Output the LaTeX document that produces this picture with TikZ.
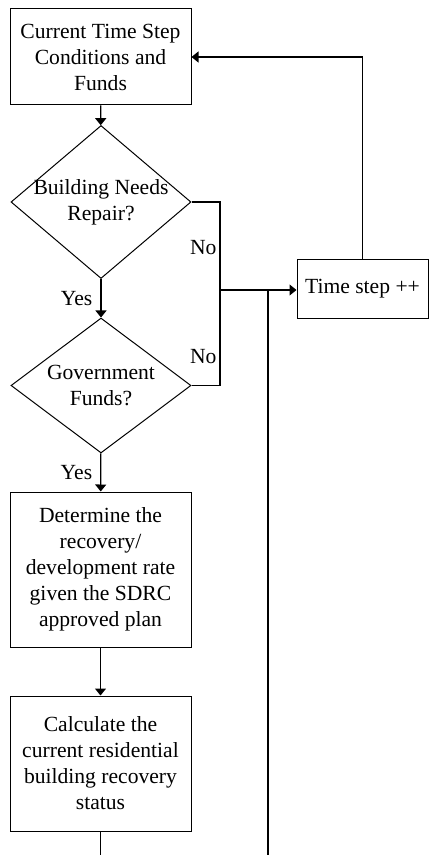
\documentclass[tikz,border=0pt]{standalone}
\usepackage{fontspec}
\setmainfont{Liberation Serif}
\usetikzlibrary{shapes.geometric,arrows.meta}

\begin{document}
\begin{tikzpicture}[x=0.5pt,y=-0.5pt]
            \tikzstyle{every node}=[font=\fontsize{10.8}{13}\selectfont];
            \tikzstyle{box}=[draw, line width=0.5pt, align=center, minimum width=90.5pt, inner sep=0pt];
            \tikzstyle{decision}=[draw, shape=diamond, line width=0.5pt, inner sep=0pt, minimum width=90pt];
            \tikzstyle{flow}=[line width=0.6pt, -{Triangle[width=5.5pt,length=3.5pt]}];
            \tikzstyle{wire}=[line width=0.6pt];
            \clip (0,0) rectangle (429,855);
            \node[box, minimum height=48pt] (cur) at (100.5,57) {Current Time Step\\Conditions and\\Funds};
            \node[decision, minimum height=76.5pt, label={[align=center]center:Building Needs\\Repair?}] (need) at (101,202) {};
            \node[decision, minimum height=67.5pt, label={[align=center]center:Government\\Funds?}] (gov) at (101,385.5) {};
            \node[box, minimum height=77.5pt] (rate) at (100.5,569.5) {Determine the\\recovery/\\development rate\\given the SDRC\\approved plan};
            \node[box, minimum height=67.5pt] (status) at (100.5,763.5) {Calculate the\\current residential\\building recovery\\status};
            \node[box, minimum width=65.5pt, minimum height=29pt] (tstep) at (362.5,289) {Time step ++};
            \coordinate (join) at (220,290);
            \coordinate (merge) at (268,290);
            \coordinate (loop) at (268,900);
            \draw[flow] (cur) -- (need);
            \draw[flow] (need) -- node[left, inner sep=4pt] {Yes} (gov);
            \draw[flow] (gov) -- node[left, inner sep=4pt] {Yes} (rate);
            \draw[flow] (rate) -- (status);
            \draw[wire] (need.east) -| node[pos=0.76, left, inner sep=1.5pt] {No} (join);
            \draw[wire] (gov.east) -| node[pos=0.65, left, inner sep=1.5pt] {No} (join);
            \draw[flow] (join) -- (tstep.west |- join);
            \draw[wire] (status.south) |- (loop) -- (merge);
            \draw[flow] (tstep.north) |- (cur.east);
\end{tikzpicture}
\end{document}
